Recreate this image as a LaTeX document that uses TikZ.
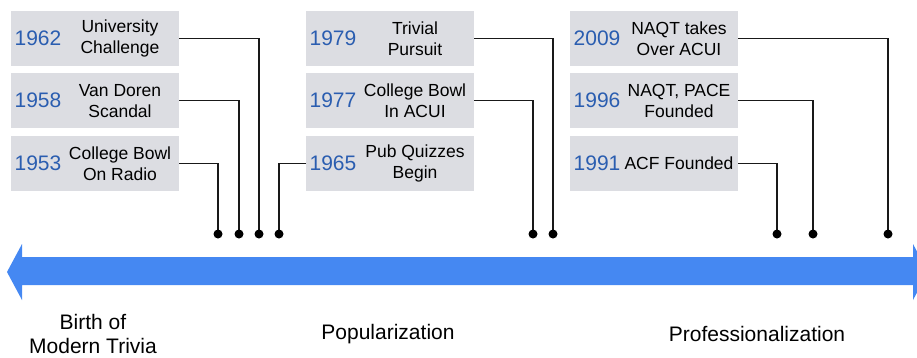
\documentclass[tikz,border=0pt]{standalone}
\usepackage{fontspec}
\setmainfont{Liberation Sans}
\definecolor{boxgray}{RGB}{220,221,226}
\definecolor{yearblue}{RGB}{42,93,176}
\definecolor{arrowblue}{RGB}{69,136,242}
\definecolor{linegray}{RGB}{25,25,25}
\begin{document}
\begin{tikzpicture}[x=1pt,y=-1pt,
  evbox/.style={fill=boxgray,minimum width=168pt,minimum height=55pt,inner sep=0pt,anchor=north west},
  yeartxt/.style={text=yearblue,font=\fontsize{21}{24}\selectfont,inner sep=0pt},
  desctxt/.style={text=black,font=\fontsize{17.5}{21}\selectfont,align=center,inner sep=0pt},
  eralabel/.style={text=black,font=\fontsize{21}{24}\selectfont,align=center,inner sep=0pt},
  conn/.style={draw=linegray,line width=1.3pt},
  dot/.style={fill=black}]
\useasboundingbox (0,0) rectangle (917,357);
\begin{scope}
\clip (0,0) rectangle (917,357);
\fill[arrowblue] (7,272) -- (22,244) -- (22,257) -- (913,257) -- (913,244) -- (928,272) -- (913,300) -- (913,285) -- (22,285) -- (22,300) -- cycle;
\end{scope}
% column 1
\node[evbox] (b1962) at (11,11) {};
\node[evbox] (b1958) at (11,73) {};
\node[evbox] (b1953) at (11,136) {};
% column 2
\node[evbox] (b1979) at (306,11) {};
\node[evbox] (b1977) at (306,73) {};
\node[evbox] (b1965) at (306,136) {};
% column 3
\node[evbox] (b2009) at (570,11) {};
\node[evbox] (b1996) at (570,73) {};
\node[evbox] (b1991) at (570,136) {};
% texts
\foreach \n/\d in {1962/{University\\Challenge},1958/{Van Doren\\Scandal},1953/{College Bowl\\On Radio},1979/{Trivial\\Pursuit},1977/{College Bowl\\In ACUI},1965/{Pub Quizzes\\Begin},2009/{NAQT takes\\Over ACUI},1996/{NAQT, PACE\\Founded},1991/{ACF Founded}}{
  \node[yeartxt] (y\n) at ([xshift=27pt]b\n.west) {\n};
  \node[desctxt] (d\n) at ([xshift=109pt]b\n.west) {\d};
}
% dots
\coordinate (p1953) at (218,234);
\coordinate (p1958) at (239,234);
\coordinate (p1962) at (259,234);
\coordinate (p1965) at (279,234);
\coordinate (p1977) at (533,234);
\coordinate (p1979) at (553,234);
\coordinate (p1991) at (777,234);
\coordinate (p1996) at (813,234);
\coordinate (p2009) at (888,234);
\foreach \n in {1953,1958,1962,1977,1979,1991,1996,2009}{
  \draw[conn] (b\n.east) -| (p\n);
}
\draw[conn] (b1965.west) -| (p1965);
\foreach \n in {1953,1958,1962,1965,1977,1979,1991,1996,2009}{
  \fill[dot] (p\n) circle (4.5);
}
% era labels
\node[eralabel] (era1) at (93,333.5) {Birth of\\Modern Trivia};
\node[eralabel] (era2) at (388,334) {Popularization};
\node[eralabel] (era3) at (757,334) {Professionalization};
\end{tikzpicture}
\end{document}
